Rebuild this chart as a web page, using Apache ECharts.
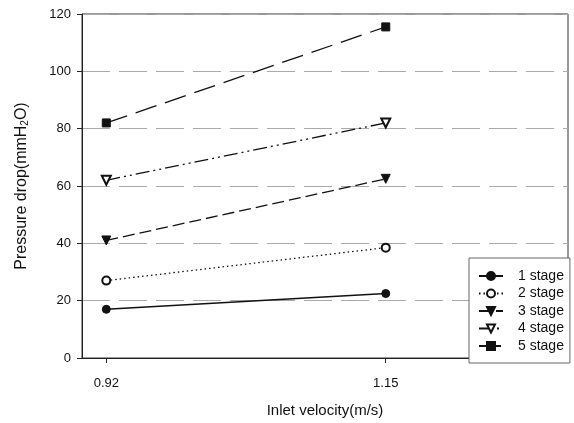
<!DOCTYPE html>
<html>
<head>
<meta charset="utf-8">
<script src="https://cdn.jsdelivr.net/npm/echarts@6/dist/echarts.min.js"></script>
<style>html,body{margin:0;padding:0;background:#fff}#c{width:574px;height:423px}</style>
</head>
<body>
<div id="c"></div>
<script>
const velocities = [0.92, 1.15];
const xTicks = [0.92, 1.15];
const yTicks = [0, 20, 40, 60, 80, 100, 120];
const stage1 = [17, 22.5];
const stage2 = [27, 38.5];
const stage3 = [41, 62.5];
const stage4 = [62, 82];
const stage5 = [82, 115.5];
const seriesNames = ['1 stage', '2 stage', '3 stage', '4 stage', '5 stage'];

const font = 'Liberation Sans, Arial, sans-serif';
const chart = echarts.init(document.getElementById('c'), null, {renderer: 'canvas'});

function pairs(vals) { return velocities.map((v, i) => [v, vals[i]]); }

const styles = [
  {symbol: 'circle', size: 8, line: 'solid', rot: 0},
  {symbol: 'emptyCircle', size: 8, line: [1.5, 3], rot: 0},
  {symbol: 'triangle', size: 9, line: [12, 5], rot: 180},
  {symbol: 'emptyTriangle', size: 9, line: [14, 4, 2, 4, 2, 4], rot: 180},
  {symbol: 'rect', size: 8, line: [22, 9], rot: 0}
];
const dataSets = [stage1, stage2, stage3, stage4, stage5];

chart.setOption({
  animation: false,
  backgroundColor: '#fff',
  grid: {left: 82, top: 14, right: 6, bottom: 61, show: true, borderColor: '#333', borderWidth: 1, backgroundColor: 'transparent'},
  legend: {
    orient: 'vertical',
    left: 469, top: 258,
    padding: [11, 6, 10, 9],
    itemGap: 3.5,
    itemWidth: 24, itemHeight: 10,
    borderColor: '#666', borderWidth: 1,
    backgroundColor: '#fff',
    textStyle: {fontFamily: font, fontSize: 14, color: '#111', lineHeight: 12, padding: [0, 0, 0, 10]},
    data: seriesNames
  },
  xAxis: {
    type: 'value', min: 0.9, max: 1.3,
    name: 'Inlet velocity(m/s)', nameLocation: 'middle', nameGap: 45,
    nameTextStyle: {fontFamily: font, fontSize: 15, color: '#111'},
    axisLine: {onZero: false, lineStyle: {color: '#222'}},
    axisTick: {show: true, customValues: xTicks, length: 5, lineStyle: {color: '#222'}},
    axisLabel: {customValues: xTicks, fontFamily: font, fontSize: 13, color: '#111', margin: 19, formatter: v => v.toFixed(2)},
    splitLine: {show: false}
  },
  yAxis: {
    type: 'value', min: 0, max: 120, interval: 20,
    name: 'Pressure drop(mmH{sub|2}O)', nameLocation: 'middle', nameGap: 52,
    nameTextStyle: {fontFamily: font, fontSize: 16, color: '#111', rich: {sub: {fontFamily: font, fontSize: 10, color: '#111', verticalAlign: 'bottom', padding: [7, 0, 0, 0]}}},
    axisLine: {show: true, lineStyle: {color: '#222'}},
    axisTick: {show: true, length: 5, lineStyle: {color: '#222'}},
    axisLabel: {fontFamily: font, fontSize: 13, color: '#111', margin: 11},
    splitLine: {show: true, lineStyle: {color: '#aaa', type: [28, 9], width: 1}}
  },
  series: dataSets.map((d, i) => ({
    name: seriesNames[i],
    type: 'line',
    data: pairs(d),
    symbol: styles[i].symbol,
    symbolSize: styles[i].size,
    symbolRotate: styles[i].rot,
    showAllSymbol: true,
    lineStyle: {color: '#111', width: 1.3, type: styles[i].line},
    itemStyle: {color: '#111', borderColor: '#111', borderWidth: 1}
  }))
});
</script>
</body>
</html>
